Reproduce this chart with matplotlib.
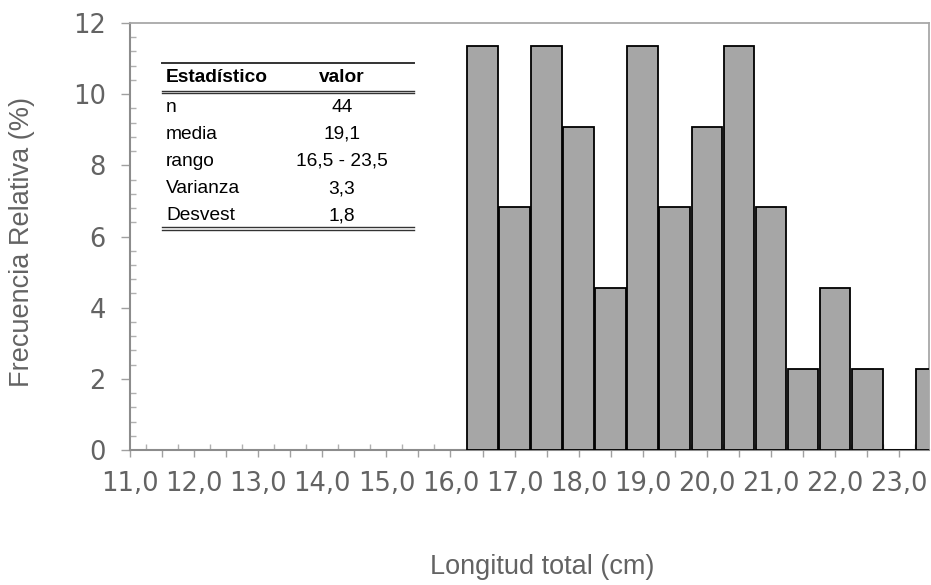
import numpy as np
import matplotlib
matplotlib.use("Agg")
import matplotlib.pyplot as plt
from matplotlib.ticker import MultipleLocator, FixedLocator, FuncFormatter

# Histogram data: bin centres (cm) and relative frequency (%)
class_centres = [16.5, 17.0, 17.5, 18.0, 18.5, 19.0, 19.5, 20.0,
                 20.5, 21.0, 21.5, 22.0, 22.5, 23.0, 23.5]
counts = [5, 3, 5, 4, 2, 5, 3, 4, 5, 3, 1, 2, 1, 0, 1]
n_total = 44
rel_freq = [100.0 * c / n_total for c in counts]

# Summary table
stat_names = ["n", "media", "rango", "Varianza", "Desvest"]
stat_values = ["44", "19,1", "16,5 - 23,5", "3,3", "1,8"]

W, H = 931, 585
fig = plt.figure(figsize=(W / 100, H / 100), dpi=100)

# axes box in pixels: left 130, right 929, top 23, bottom 450
L, R, T, B = 130, 929, 23, 450
ax = fig.add_axes([L / W, 1 - B / H, (R - L) / W, (B - T) / H])

ax.bar(class_centres, rel_freq, width=0.48, color="#a6a6a6",
       edgecolor="black", linewidth=1.3, zorder=3)

ax.set_xlim(11.0, 23.465)
ax.set_ylim(0, 12)

grey = "#8c8c8c"
txt_grey = "#636363"
for side in ["left", "bottom"]:
    ax.spines[side].set_color(grey)
    ax.spines[side].set_linewidth(1.5)
for side in ["top", "right"]:
    ax.spines[side].set_color("#a8a8a8")
    ax.spines[side].set_linewidth(1.3)

# x ticks: outward every 0.5 (labels on integers), inward minor ticks in between
ax.xaxis.set_major_locator(MultipleLocator(0.5))
ax.xaxis.set_major_formatter(FuncFormatter(
    lambda v, p: ("%.1f" % v).replace(".", ",") if abs(v - round(v)) < 1e-6 else ""))
ax.xaxis.set_minor_locator(FixedLocator(np.arange(11.25, 23.5, 0.5)))
ax.tick_params(axis="x", which="major", direction="out", length=5, width=1,
               color="#a0a0a0", pad=10, labelsize=18.5, labelcolor=txt_grey)
ax.tick_params(axis="x", which="minor", direction="in", length=4.5, width=1,
               color="#b0b0b0")

# y ticks
ax.yaxis.set_major_locator(MultipleLocator(2))
ax.yaxis.set_minor_locator(MultipleLocator(0.4))
ax.tick_params(axis="y", which="major", direction="out", length=6.5, width=1,
               color="#a0a0a0", pad=11, labelsize=18.5, labelcolor=txt_grey)
ax.tick_params(axis="y", which="minor", direction="in", length=4.5, width=1,
               color="#b0b0b0")
for lab in ax.get_xticklabels() + ax.get_yticklabels():
    lab.set_family("DejaVu Sans")

ax.set_xlabel("Longitud total (cm)", fontsize=19.5, color=txt_grey,
              family="Liberation Sans")
ax.xaxis.set_label_coords((542 - L) / (R - L), (B - 554) / (B - T))
ax.set_ylabel("Frecuencia Relativa (%)", fontsize=19.5, color=txt_grey,
              family="Liberation Sans")
ax.yaxis.set_label_coords((35 - L) / (R - L), (B - 242) / (B - T))


# table drawn in pixel positions converted to axes fraction
def fx(x):
    return (x - L) / (R - L)


def fy(y):
    return (B - y) / (B - T)


tab_left, tab_right = 162, 414
ax.plot([fx(tab_left), fx(tab_right)], [fy(62.5)] * 2, color="#333333",
        lw=1.4, transform=ax.transAxes, clip_on=False)
for yy in [90.7, 93.0, 227.3, 230.0]:
    ax.plot([fx(tab_left), fx(tab_right)], [fy(yy)] * 2, color="#333333",
            lw=1.0, transform=ax.transAxes, clip_on=False)

fs_tab = 13.8
ax.text(fx(166), fy(78), "Estadístico", fontsize=fs_tab, fontweight="bold",
        family="Liberation Sans", va="center", ha="left", transform=ax.transAxes)
ax.text(fx(342), fy(78), "valor", fontsize=fs_tab, fontweight="bold",
        family="Liberation Sans", va="center", ha="center", transform=ax.transAxes)
for i, (name, val) in enumerate(zip(stat_names, stat_values)):
    yy = 107 + i * 27.2
    ax.text(fx(166), fy(yy), name, fontsize=fs_tab, family="Liberation Sans",
            va="center", ha="left", transform=ax.transAxes)
    ax.text(fx(342), fy(yy), val, fontsize=fs_tab, family="Liberation Sans",
            va="center", ha="center", transform=ax.transAxes)

fig.savefig("out.png", dpi=100)
